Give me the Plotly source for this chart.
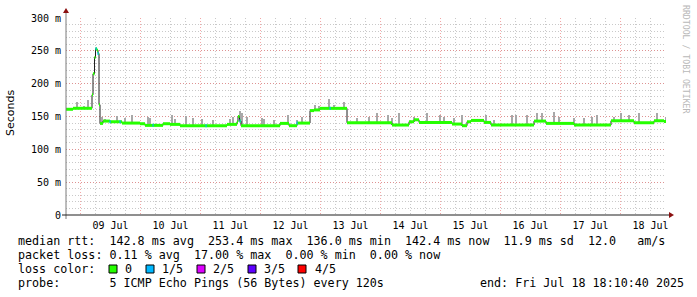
import pandas as pd
import bisect
import plotly.graph_objects as go

START = pd.Timestamp("2025-07-08 18:10:40")
END = pd.Timestamp("2025-07-18 18:10:40")

# median rtt as step runs: start (hours after START) and median value (ms)
run_hours = [0, 2.8, 10.4, 10.8, 11.4, 11.8, 12.4, 12.8, 13.2, 13.6, 14.8, 17.6, 22.4, 29.6,
             31.6, 38.8, 41.6, 45.6, 64.4, 68.4, 68.8, 69.4, 70.0, 85.6, 89.2, 92.4, 97.6,
             99.2, 101.6, 112.4, 130.4, 137.2, 139.2, 141.2, 154.4, 158.4, 160.4, 162.0,
             167.2, 170.0, 187.2, 192.0, 203.2, 218.0, 227.2, 235.2, 239.2]
run_median = [161, 162.5, 183, 215, 240, 253, 251, 246, 168, 139.5, 143, 142, 140, 139,
              136.5, 139, 138, 136, 138, 142, 150, 143, 136, 139.5, 136, 140, 159,
              160, 162.4, 140.5, 137, 142, 145, 141, 138.5, 136, 142, 144,
              141, 137, 143, 139.5, 137, 143.5, 140.5, 143.5, 142.4]
TOTAL_HOURS = 240

# samples with 1/5 packet loss (hours after START)
blue_hours = [12.0, 12.8, 17.6, 21.6, 34.8, 56.0, 69.6, 92.4, 105.6]

# smoke (max ping) spikes: hours after START, top value (ms)
smoke_hours = [4.4, 7.2, 8.8, 14.3, 15.6, 20.3, 23.6, 26.3, 32.9, 33.6, 42.3, 43.6, 48.0,
               50.7, 54.3, 58.8, 65.6, 66.8, 69.6, 70.3, 72.3, 78.3, 79.1, 83.1, 88.8,
               92.4, 94.4, 99.6, 101.1, 105.1, 107.1, 111.1, 116.4, 121.1, 124.4, 128.8,
               130.4, 133.3, 139.1, 144.4, 149.7, 151.1, 155.1, 158.4, 167.9, 171.2,
               178.5, 179.9, 184.5, 188.3, 190.5, 195.2, 197.2, 203.2, 207.2, 210.5,
               212.5, 219.2, 221.9, 225.2, 229.2, 236.5, 239.9]
smoke_top = [172, 166, 175, 150, 146, 151, 147, 153, 150, 147, 152, 146, 151,
             147, 146, 144, 146, 150, 158, 156, 150, 147, 146, 145, 153,
             145, 150, 167, 166, 176, 167, 172, 148, 150, 155, 152,
             148, 155, 150, 155, 153, 150, 148, 152, 152, 144,
             152, 152, 152, 156, 156, 157, 150, 148, 148, 150,
             152, 150, 155, 153, 156, 155, 150]

loss_labels = ["0", "1/5", "2/5", "3/5", "4/5"]
loss_colors = ["#26ff00", "#00b8ff", "#dd00ff", "#5e00ff", "#ff0000"]

y_ticks = [0, 50, 100, 150, 200, 250, 300]
y_ticktext = ["0", "50 m", "100 m", "150 m", "200 m", "250 m", "300 m"]

legend_line1 = "median rtt:  142.8 ms avg  253.4 ms max  136.0 ms min  142.4 ms now  11.9 ms sd  12.0   am/s"
legend_line2 = "packet loss: 0.11 % avg  17.00 % max  0.00 % min  0.00 % now"
legend_line3 = "loss color:"
legend_line4 = "probe:       5 ICMP Echo Pings (56 Bytes) every 120s"
legend_end = "end: Fri Jul 18 18:10:40 2025"

H = pd.Timedelta(hours=1)
MS_PER_H = 3600 * 1000


def t(h):
    return START + h * H


def median_at(h):
    i = bisect.bisect_right(run_hours, h) - 1
    return run_median[max(i, 0)]


fig = go.Figure()

# smoke spikes
fig.add_trace(go.Bar(
    x=[t(h - 0.25) for h in smoke_hours],
    base=[median_at(h) for h in smoke_hours],
    y=[top - median_at(h) for h, top in zip(smoke_hours, smoke_top)],
    width=[0.5 * MS_PER_H] * len(smoke_hours), offset=0,
    marker=dict(color="#a8a8a8", line=dict(width=0)), hoverinfo="skip"))

# black median line
fig.add_trace(go.Scatter(
    x=[t(h) for h in run_hours] + [t(TOTAL_HOURS)],
    y=run_median + [run_median[-1]],
    mode="lines", line=dict(color="#202020", width=1, shape="hv"), hoverinfo="skip"))

# loss-coloured band around median: horizontal segments per run
ends = run_hours[1:] + [TOTAL_HOURS]
gx, gy = [], []
for s, e, v in zip(run_hours, ends, run_median):
    gx += [t(s), t(e), None]
    gy += [v, v, None]
fig.add_trace(go.Scatter(x=gx, y=gy, mode="lines",
                         line=dict(color=loss_colors[0], width=3), hoverinfo="skip"))
bx, by = [], []
for h in blue_hours:
    v = median_at(h)
    bx += [t(h - 0.2), t(h + 0.25), None]
    by += [v, v, None]
fig.add_trace(go.Scatter(x=bx, y=by, mode="lines",
                         line=dict(color=loss_colors[1], width=3), hoverinfo="skip"))

mono = "DejaVu Sans Mono"
L, R, T, B = 66, 31, 18, 82
W, HT = 697, 297
PW, PH = W - L - R, HT - T - B


def px(xp):
    return (xp - L) / PW


def py(yp):
    return (HT - B - yp) / PH


MAJ = "rgba(235,110,110,0.6)"
MIN = "rgba(165,165,165,0.6)"
DOT = "1px,2px"

fig.update_layout(
    width=W, height=HT, margin=dict(l=L, r=R, t=T, b=B),
    paper_bgcolor="white", plot_bgcolor="white",
    showlegend=False, barmode="overlay", bargap=0,
    xaxis=dict(
        type="date", range=[START, END],
        tick0="2025-07-09", dtick=86400000, tickformat="%d %b", ticklabelmode="period",
        showgrid=True, gridcolor=MAJ, griddash=DOT, gridwidth=1,
        minor=dict(dtick=6 * MS_PER_H, tick0="2025-07-09", showgrid=True,
                   gridcolor=MIN, griddash=DOT, gridwidth=1),
        ticks="", showline=False, zeroline=False, ticklabelstandoff=3,
        tickfont=dict(family=mono, size=10, color="#000")),
    yaxis=dict(
        range=[0, 300], tickvals=y_ticks, ticktext=y_ticktext,
        showgrid=True, gridcolor=MAJ, griddash=DOT, gridwidth=1,
        minor=dict(dtick=10, showgrid=True, gridcolor=MIN, griddash=DOT, gridwidth=1),
        ticks="", showline=False, zeroline=False, ticklabelstandoff=4,
        tickfont=dict(family=mono, size=10, color="#000")),
)

shapes = [
    # y axis line
    dict(type="line", xref="paper", yref="paper", x0=0, x1=0, y0=py(219), y1=py(12),
         line=dict(color="#7a7a7a", width=1)),
    # x axis line
    dict(type="line", xref="paper", yref="paper", x0=px(62), x1=px(670), y0=0, y1=0,
         line=dict(color="#202020", width=1.2)),
    # arrows
    dict(type="path", xref="paper", yref="paper",
         path=f"M {px(63)},{py(13)} L {px(69)},{py(13)} L {px(66)},{py(8)} Z",
         fillcolor="#8b1010", line=dict(width=0)),
    dict(type="path", xref="paper", yref="paper",
         path=f"M {px(669)},{py(212)} L {px(669)},{py(218)} L {px(674)},{py(215)} Z",
         fillcolor="#8b1010", line=dict(width=0)),
]

# loss colour swatches
box_left = [109, 146, 197, 248, 298]
label_left = [123, 160, 211, 262, 313]
for bl, col in zip(box_left, loss_colors):
    shapes.append(dict(type="rect", xref="paper", yref="paper",
                       x0=px(bl), x1=px(bl + 8), y0=py(273), y1=py(265),
                       fillcolor=col, line=dict(color="#000", width=1)))
fig.update_layout(shapes=shapes)

nb = lambda s: s.replace(" ", "\u00a0")
ann_font = dict(family=mono, size=11.7, color="#000")
anns = [
    dict(text=nb(legend_line1), x=px(16), y=py(241)),
    dict(text=nb(legend_line2), x=px(16), y=py(255)),
    dict(text=nb(legend_line3), x=px(16), y=py(269)),
    dict(text=nb(legend_line4), x=px(16), y=py(283)),
    dict(text=nb(legend_end), x=px(478), y=py(283)),
]
for lab, ll in zip(loss_labels, label_left):
    anns.append(dict(text=lab, x=px(ll), y=py(269)))
for a in anns:
    fig.add_annotation(xref="paper", yref="paper", xanchor="left", yanchor="middle",
                       showarrow=False, font=ann_font, **a)

fig.add_annotation(xref="paper", yref="paper", x=px(10), y=py(113), text="Seconds",
                   textangle=-90, showarrow=False, xanchor="center", yanchor="middle",
                   font=dict(family="DejaVu Sans", size=11, color="#000"))
fig.add_annotation(xref="paper", yref="paper", x=px(686), y=py(59),
                   text=nb("RRDTOOL / TOBI OETIKER"), textangle=90, showarrow=False,
                   xanchor="center", yanchor="middle",
                   font=dict(family=mono, size=8.2, color="#b8b8b8"))

fig.write_html("out.html")
